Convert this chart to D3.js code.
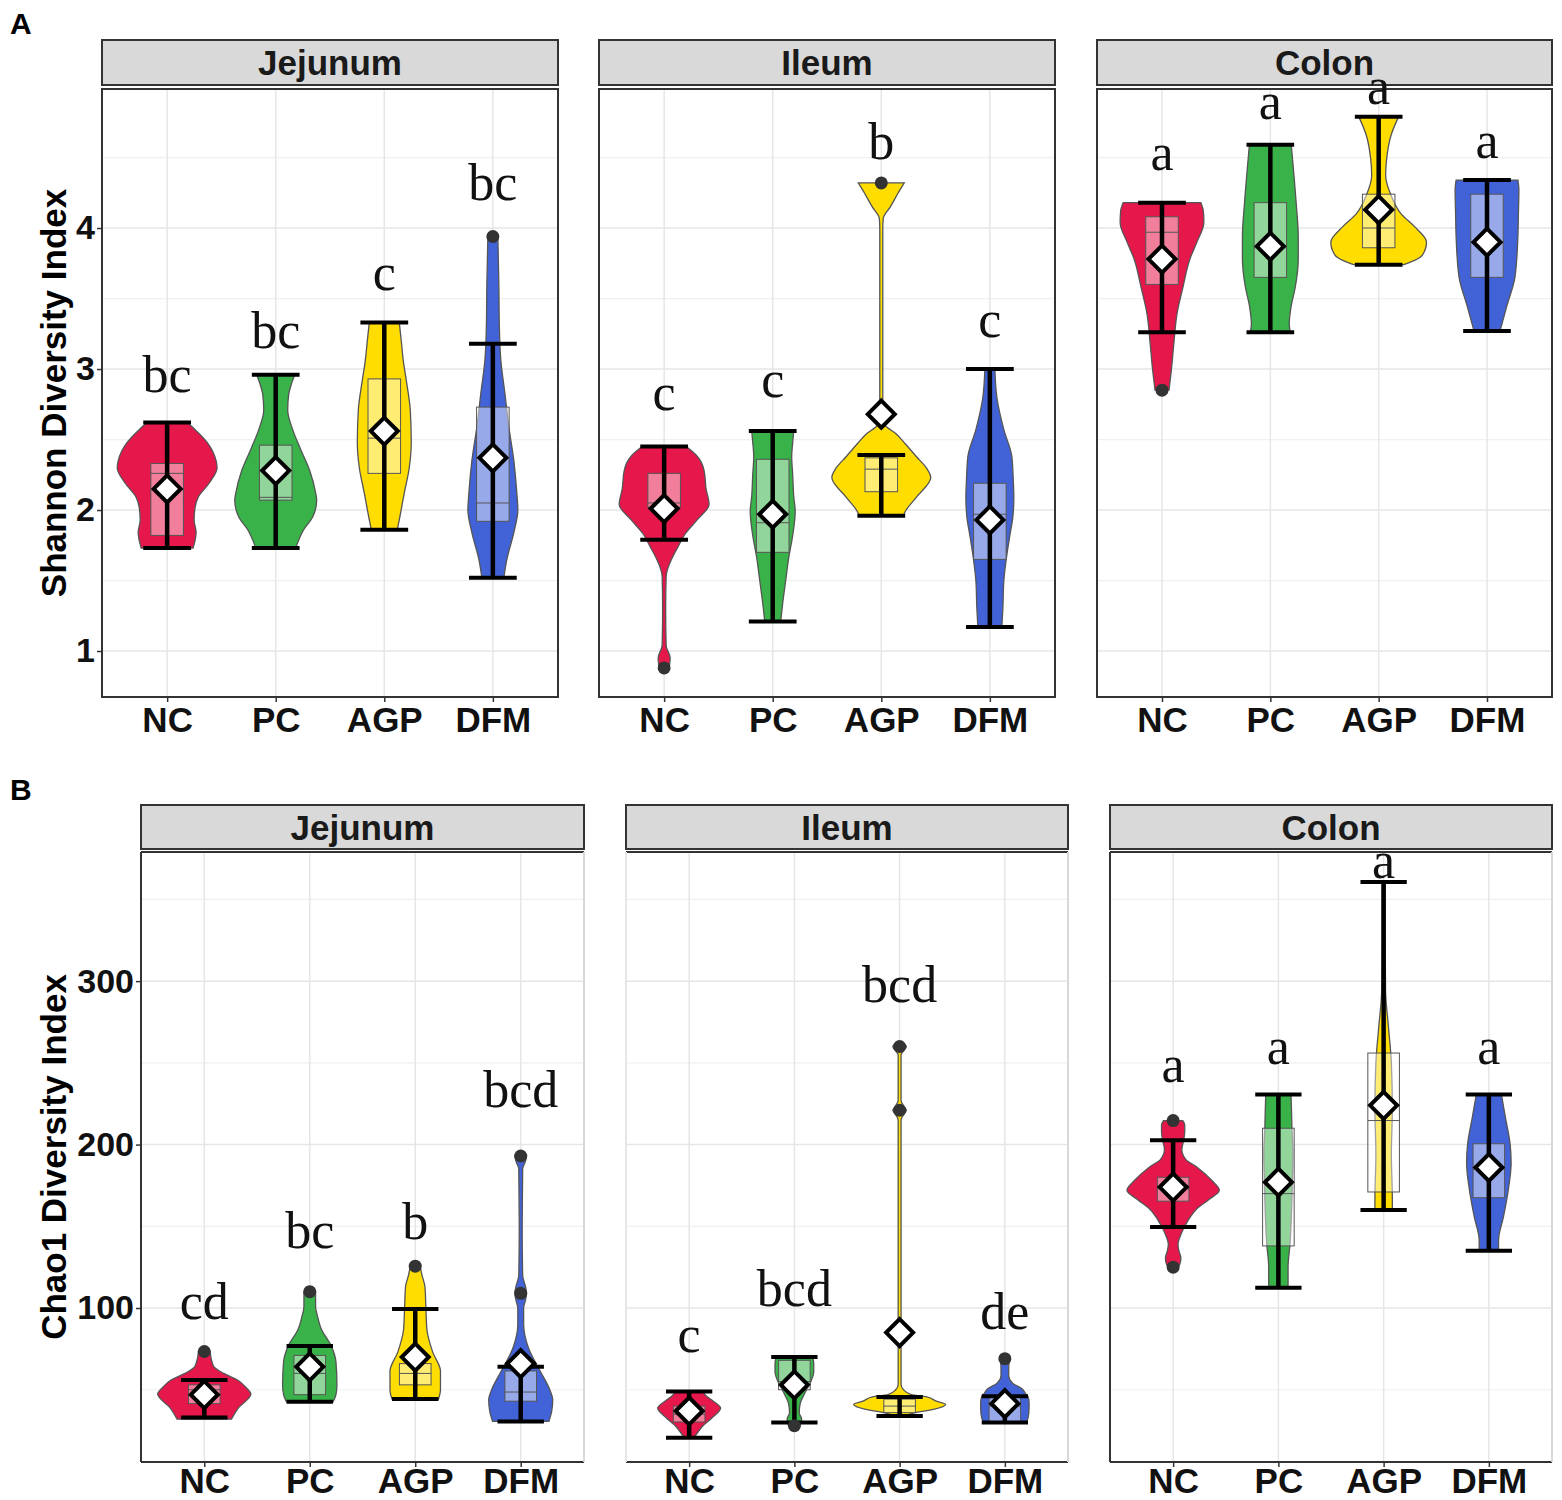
<!DOCTYPE html>
<html>
<head>
<meta charset="utf-8">
<script src="https://cdn.jsdelivr.net/npm/d3@7"></script>
<style>
body { margin: 0; background: #fff; }
svg { display: block; }
.sans { font-family: "Liberation Sans", Arial, sans-serif; font-weight: bold; }
.letter { font-family: "Liberation Serif", "Times New Roman", serif; }
</style>
</head>
<body>
<div id="chart"></div>
<script>
// Categories
const categories = ["NC", "PC", "AGP", "DFM"];
const sites = ["Jejunum", "Ileum", "Colon"];
const fillColors = ["#e5174b", "#38b249", "#ffdd00", "#4263d8"];

// Panel A: Shannon
const shannonTicks = [1, 2, 3, 4];
const shannonMinor = [1.5, 2.5, 3.5, 4.5];
const shannonDomain = [0.674, 4.986];

// violin profiles: [value, relative density]
const shannonViolins = [
    [
        [[1.73,26],[1.84,29],[1.93,27],[2.02,28],[2.09,31],[2.19,42],[2.30,50],[2.35,49],[2.48,40],[2.57,28],[2.62,20]],
        [[1.73,20],[1.86,28],[1.95,37],[2.07,41],[2.12,40],[2.28,34],[2.43,25],[2.57,17],[2.71,12],[2.82,13],[2.90,16],[2.96,19]],
        [[1.86,13],[1.93,15],[2.12,20],[2.30,25],[2.48,27],[2.71,26],[2.92,22],[3.06,19],[3.20,17],[3.33,15]],
        [[1.52,11],[1.65,14],[1.84,21],[2.00,25],[2.12,24],[2.35,21],[2.59,16],[2.83,12],[3.06,8],[3.30,6.5],[3.60,6],[3.94,5]]
    ],
    [
        [[0.88,5],[0.95,6],[1.04,2],[1.30,1.5],[1.53,2],[1.66,8],[1.74,14],[1.83,21],[1.93,33],[2.04,45],[2.15,42],[2.28,40],[2.39,32],[2.45,22]],
        [[1.21,8],[1.34,10],[1.50,13],[1.66,16],[1.82,20],[1.99,22.5],[2.10,21],[2.25,20],[2.38,19],[2.48,20],[2.56,21]],
        [[1.96,22],[1.99,24],[2.09,35],[2.23,49.5],[2.30,45],[2.38,35],[2.47,24],[2.54,15],[2.60,4],[2.66,1.5],[3.50,1.5],[4.00,1.5],[4.07,2],[4.15,9],[4.25,17],[4.32,23]],
        [[1.17,12],[1.30,13],[1.50,14],[1.63,16],[1.82,20],[1.95,23],[2.09,24],[2.20,23.5],[2.38,22],[2.57,14],[2.80,7],[3.00,5]]
    ],
    [
        [[2.85,7],[3.00,9.5],[3.19,12],[3.39,15],[3.58,21],[3.78,28],[3.90,35],[4.04,42],[4.12,41.5],[4.18,39]],
        [[3.26,20],[3.32,19],[3.45,21],[3.58,25],[3.78,28],[3.94,28],[4.17,26],[4.43,23],[4.59,21]],
        [[3.74,25],[3.77,36],[3.81,44],[3.90,48],[4.01,36],[4.10,22.5],[4.23,12.5],[4.37,7],[4.49,8],[4.66,12.5],[4.79,20]],
        [[3.27,13],[3.32,15],[3.45,20],[3.65,28],[3.94,31],[4.10,31.5],[4.27,32],[4.34,31]]
    ]
];
// [q1, median, q3]
const shannonBoxes = [
    [[1.82,2.26,2.33],[2.07,2.09,2.46],[2.26,2.51,2.93],[1.92,2.05,2.73]],
    [[2.02,2.05,2.26],[1.70,1.91,2.36],[2.13,2.29,2.37],[1.65,1.97,2.19]],
    [[3.60,3.97,4.08],[3.65,3.86,4.18],[3.86,4.00,4.24],[3.65,3.90,4.24]]
];
const shannonMeans = [[2.15,2.28,2.56,2.37],[2.01,1.97,2.68,1.93],[3.78,3.87,4.13,3.90]];
const shannonBars = [
    [[1.73,2.62],[1.73,2.96],[1.86,3.33],[1.52,3.18]],
    [[1.79,2.45],[1.21,2.56],[1.96,2.39],[1.17,3.00]],
    [[3.26,4.18],[3.26,4.59],[3.74,4.79],[3.27,4.34]]
];
const shannonOutliers = [[[],[],[],[3.94]],[[0.88],[],[4.32],[]],[[2.85],[],[],[]]];
const shannonLetters = [
    [["bc",2.84],["bc",3.15],["c",3.56],["bc",4.20]],
    [["c",2.71],["c",2.80],["b",4.49],["c",3.23]],
    [["a",4.41],["a",4.77],["a",4.88],["a",4.50]]
];

// Panel B: Chao1
const chaoTicks = [100, 200, 300];
const chaoMinor = [50, 150, 250, 350];
const chaoDomain = [5.8, 379];

const chaoViolins = [
    [
        [[32,28],[38.8,35],[47.4,48],[52,42],[55.7,35],[60,20],[64,10],[67,8],[73.4,6]],
        [[42.6,24],[47,27],[53,28],[67,27],[77,22],[87,12],[95,8],[101,6],[110,6]],
        [[44.3,24],[50,26],[61.4,26],[73,18],[87,12],[100,11],[113,10],[120,7],[125.6,5]],
        [[30.6,29],[37,32],[44,33],[50,30],[61.5,20],[75.5,8],[90,3],[100,3],[105,5],[109,6],[113,5],[120,2],[150,1.5],[185,2],[190,5],[193,6]]
    ],
    [
        [[20.7,5],[24,9],[27.8,14],[33,24],[38.8,32.5],[43,25],[46,18],[49,14]],
        [[28,6],[32,7.5],[36,5],[41.5,6],[47,10],[55,17],[61,20],[66,20],[70,19]],
        [[34,5],[35.8,15],[38,35],[41,47.5],[43,38],[45.6,28],[47,12],[50,4],[53,1.5],[215,1.5],[219,5],[221,7],[223,5],[227,1.5],[255,1.5],[258,5],[260,7],[262,4]],
        [[30,22],[33,24],[38.8,25],[42,25],[45.6,24],[48,21],[50.5,18],[54,8],[58.4,4],[64,4],[69,5]]
    ],
    [
        [[125,5],[127,7],[130.6,8],[135,6],[139,5],[145,8],[150,12],[156,18],[161,25],[166,36],[172,47.7],[178,40],[186,25],[191,13],[197,9],[203,11],[208,12],[212,12],[214.7,10]],
        [[112.4,10],[125,10],[139,12],[150,13],[167,14],[180,14.5],[194,15],[210,14],[222,13.5],[230.6,13]],
        [[160,9],[167,9],[194,8],[222,9],[250,8],[272,5],[294,2],[330,1.5],[360.6,1.5]],
        [[135,10],[141.6,10],[155.6,15],[172,20],[188.7,23],[200,22],[217,17],[230.6,13]]
    ]
];
const chaoBoxes = [
    [[41.5,50,53],[47,60,71],[53,60,66],[43,48.6,61.5]],
    [[30.3,35,40],[50,55,68],[36,40,44.3],[30,40,46]],
    [[165.4,173,180],[138,170,210],[171,214.7,256],[167.5,185,200.5]]
];
const chaoMeans = [[47,64,70,66],[37,53,85,41.5],[174,177,224,186]];
const chaoBars = [
    [[33,56],[42.6,76.7],[44.3,99.4],[30.6,64]],
    [[20.7,49],[30,70],[34,45.6],[30,46]],
    [[149.5,202.7],[112.4,230.6],[160,360.6],[135,230.6]]
];
const chaoOutliers = [[[73.4],[110],[125.6],[109,193]],[[],[28],[221,260],[69]],[[125,214.7],[],[],[]]];
const chaoLetters = [
    [["cd",93],["bc",137],["b",142],["bcd",223]],
    [["c",73],["bcd",101],["bcd",287],["de",87]],
    [["a",238],["a",249],["a",363],["a",249]]
];

// Layout
const width = 1562;
const height = 1500;

const rows = [
    {
        tag: "A", tagY: 34, title: "Shannon Diversity Index",
        top: 89, bottom: 697, stripTop: 40, stripH: 45, xPad: 5,
        panels: [[102, 558], [599, 1055], [1097, 1552]],
        domain: shannonDomain, ticks: shannonTicks, minor: shannonMinor,
        violins: shannonViolins, boxes: shannonBoxes, means: shannonMeans,
        bars: shannonBars, outliers: shannonOutliers, letters: shannonLetters,
        fullBorder: true
    },
    {
        tag: "B", tagY: 800, title: "Chao1 Diversity Index",
        top: 852, bottom: 1462, stripTop: 805, stripH: 44, xPad: 1,
        panels: [[141, 584], [626, 1068], [1110, 1552]],
        domain: chaoDomain, ticks: chaoTicks, minor: chaoMinor,
        violins: chaoViolins, boxes: chaoBoxes, means: chaoMeans,
        bars: chaoBars, outliers: chaoOutliers, letters: chaoLetters,
        fullBorder: false
    }
];

const svg = d3.select("#chart")
    .append("svg")
    .attr("width", width)
    .attr("height", height);

const letterLayer = [];

function drawRow(row) {
    const y = d3.scaleLinear().domain(row.domain).range([row.bottom, row.top]);

    svg.append("text")
        .attr("class", "sans")
        .attr("x", 10).attr("y", row.tagY)
        .attr("font-size", 30)
        .text(row.tag);

    svg.append("text")
        .attr("class", "sans")
        .attr("transform", `translate(66,${(row.top + row.bottom) / 2}) rotate(-90)`)
        .attr("text-anchor", "middle")
        .attr("font-size", 35)
        .text(row.title);

    row.panels.forEach(([x0, x1], s) => {
        const x = d3.scalePoint().domain(categories).range([x0, x1]).padding(0.6);
        const step = x.step();
        const dens = d3.scaleLinear().domain([0, 100]).range([0, step * 0.92]);
        const g = svg.append("g");

        // strip
        g.append("rect")
            .attr("x", x0).attr("y", row.stripTop)
            .attr("width", x1 - x0).attr("height", row.stripH)
            .attr("fill", "#d9d9d9").attr("stroke", "#333").attr("stroke-width", 2);
        g.append("text")
            .attr("class", "sans")
            .attr("x", (x0 + x1) / 2).attr("y", row.stripTop + row.stripH / 2)
            .attr("dy", "0.36em")
            .attr("text-anchor", "middle")
            .attr("font-size", 35)
            .attr("fill", "#1a1a1a")
            .text(sites[s]);

        // grid
        g.selectAll(".minor").data(row.minor).join("line")
            .attr("x1", x0).attr("x2", x1)
            .attr("y1", d => y(d)).attr("y2", d => y(d))
            .attr("stroke", "#f0f0f0").attr("stroke-width", 1.2);
        g.selectAll(".major").data(row.ticks).join("line")
            .attr("x1", x0).attr("x2", x1)
            .attr("y1", d => y(d)).attr("y2", d => y(d))
            .attr("stroke", "#e6e6e6").attr("stroke-width", 1.5);
        g.selectAll(".vgrid").data(categories).join("line")
            .attr("x1", d => x(d)).attr("x2", d => x(d))
            .attr("y1", row.top).attr("y2", row.bottom)
            .attr("stroke", "#e6e6e6").attr("stroke-width", 1.5);

        categories.forEach((c, i) => {
            const cx = x(c);

            // violin
            const area = d3.area()
                .curve(d3.curveMonotoneY)
                .y(p => y(p[0]))
                .x0(p => cx - dens(p[1]))
                .x1(p => cx + dens(p[1]));
            g.append("path")
                .attr("d", area(row.violins[s][i]))
                .attr("fill", fillColors[i])
                .attr("stroke", "#555")
                .attr("stroke-width", 1.3);

            // box
            const [q1, med, q3] = row.boxes[s][i];
            const bw = step * 0.3;
            g.append("rect")
                .attr("x", cx - bw / 2).attr("y", y(q3))
                .attr("width", bw).attr("height", y(q1) - y(q3))
                .attr("fill", "#fff").attr("fill-opacity", 0.45)
                .attr("stroke", "#555").attr("stroke-width", 1);
            g.append("line")
                .attr("x1", cx - bw / 2).attr("x2", cx + bw / 2)
                .attr("y1", y(med)).attr("y2", y(med))
                .attr("stroke", "#555").attr("stroke-width", 1);

            // error bar
            const [lo, hi] = row.bars[s][i];
            const cw = step * 0.22;
            g.append("line")
                .attr("x1", cx).attr("x2", cx)
                .attr("y1", y(lo)).attr("y2", y(hi))
                .attr("stroke", "#000").attr("stroke-width", 4.5);
            [lo, hi].forEach(v => {
                g.append("line")
                    .attr("x1", cx - cw).attr("x2", cx + cw)
                    .attr("y1", y(v)).attr("y2", y(v))
                    .attr("stroke", "#000").attr("stroke-width", 4);
            });

            // outliers
            g.selectAll(null).data(row.outliers[s][i]).join("circle")
                .attr("cx", cx).attr("cy", d => y(d))
                .attr("r", 6.5)
                .attr("fill", "#333");

            // mean
            const my = y(row.means[s][i]);
            g.append("path")
                .attr("d", `M${cx},${my - 13.5}L${cx + 13.5},${my}L${cx},${my + 13.5}L${cx - 13.5},${my}Z`)
                .attr("fill", "#fff")
                .attr("stroke", "#000").attr("stroke-width", 4)
                .attr("stroke-linejoin", "miter");

            letterLayer.push({ x: cx, y: y(row.letters[s][i][1]), t: row.letters[s][i][0] });
        });

        // panel border
        if (row.fullBorder) {
            g.append("rect")
                .attr("x", x0).attr("y", row.top)
                .attr("width", x1 - x0).attr("height", row.bottom - row.top)
                .attr("fill", "none").attr("stroke", "#333").attr("stroke-width", 2);
        } else {
            const edges = [
                [x0, row.top, x1, row.top, "#333"],
                [x0, row.bottom, x1, row.bottom, "#333"],
                [x1, row.top, x1, row.bottom, "#d8d8d8"],
                [x0, row.top, x0, row.bottom, s === 1 ? "#e6e6e6" : "#333"]
            ];
            edges.forEach(e => {
                g.append("line")
                    .attr("x1", e[0]).attr("y1", e[1]).attr("x2", e[2]).attr("y2", e[3])
                    .attr("stroke", e[4]).attr("stroke-width", 2);
            });
        }

        // x axis
        const xa = g.append("g")
            .attr("transform", `translate(0,${row.bottom})`)
            .call(d3.axisBottom(x).tickSize(5).tickPadding(row.xPad));
        xa.select(".domain").remove();
        xa.selectAll("line").attr("stroke", "#333").attr("stroke-width", 1.5);
        xa.selectAll("text")
            .attr("class", "sans")
            .attr("font-size", 35)
            .attr("fill", "#111");

        // y axis on first panel
        if (s === 0) {
            const ya = g.append("g")
                .attr("transform", `translate(${x0},0)`)
                .call(d3.axisLeft(y).tickValues(row.ticks).tickFormat(d3.format("d")).tickSize(5).tickPadding(2));
            ya.select(".domain").remove();
            ya.selectAll("line").attr("stroke", "#333").attr("stroke-width", 1.5);
            ya.selectAll("text")
                .attr("class", "sans")
                .attr("font-size", 34)
                .attr("fill", "#111");
        }
    });
}

rows.forEach(drawRow);

// significance letters on top
svg.selectAll(".sig").data(letterLayer).join("text")
    .attr("class", "letter")
    .attr("x", d => d.x).attr("y", d => d.y)
    .attr("text-anchor", "middle")
    .attr("font-size", 52)
    .attr("fill", "#111")
    .text(d => d.t);
</script>
</body>
</html>
